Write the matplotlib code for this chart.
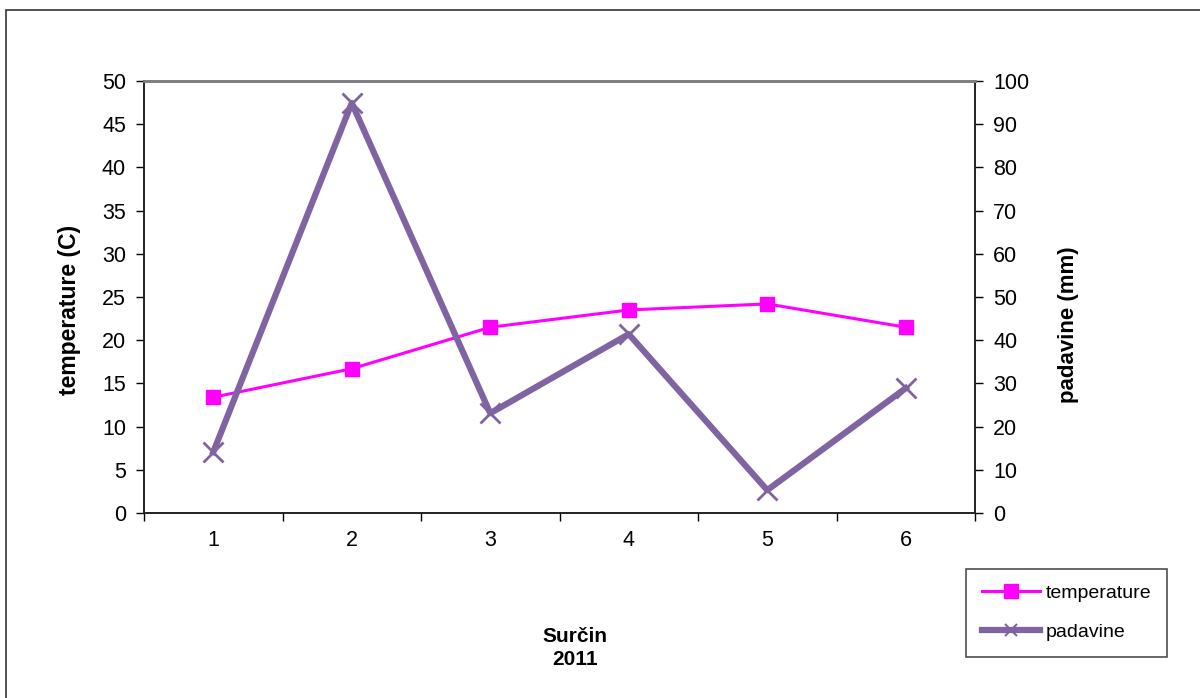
import matplotlib.pyplot as plt
from matplotlib.patches import Rectangle
from matplotlib.ticker import FixedLocator, NullFormatter

plt.rcParams['font.family'] = ['Liberation Sans', 'DejaVu Sans']

months = [1, 2, 3, 4, 5, 6]
temperature = [13.4, 16.7, 21.5, 23.5, 24.2, 21.5]
padavine = [14.1, 94.9, 23.1, 41.4, 5.3, 28.9]

fig = plt.figure(figsize=(12, 6.98), dpi=100)
ax = fig.add_axes([0.12, 0.265, 0.6925, 0.619])
ax2 = ax.twinx()

# outer chart frame (only top and left edges fall inside the image)
fig.patches.append(Rectangle((0.005, -0.05), 1.1, 1.0357, transform=fig.transFigure,
                             fill=False, edgecolor='#333333', linewidth=1.2))

l1, = ax.plot(months, temperature, color='#FF00FF', linewidth=2.2,
              marker='s', markersize=10.5, label='temperature')
l2, = ax2.plot(months, padavine, color='#8064A2', linewidth=4.5,
               marker='x', markersize=14, markeredgewidth=2, label='padavine')

ax.set_xlim(0.5, 6.5)
ax.set_ylim(0, 50)
ax2.set_ylim(0, 100)
ax.set_yticks(range(0, 51, 5))
ax2.set_yticks(range(0, 101, 10))

# category boundaries get tick marks, centres get the labels
ax.xaxis.set_major_locator(FixedLocator([0.5, 1.5, 2.5, 3.5, 4.5, 5.5, 6.5]))
ax.xaxis.set_major_formatter(NullFormatter())
ax.xaxis.set_minor_locator(FixedLocator(months))
ax.set_xticklabels([str(m) for m in months], minor=True)
ax.tick_params(axis='x', which='major', direction='out', length=6, width=1)
ax.tick_params(axis='x', which='minor', length=0, pad=12, labelsize=15.5)
ax.tick_params(axis='y', direction='out', length=6, width=1, pad=7, labelsize=15.5)
ax2.tick_params(axis='y', direction='out', length=6, width=1, pad=7, labelsize=15.5)

for a in (ax, ax2):
    a.spines['top'].set_color('#808080')
    a.spines['top'].set_linewidth(2)
    for s in ('left', 'right', 'bottom'):
        a.spines[s].set_color('#222222')
        a.spines[s].set_linewidth(1.2)

ax.set_ylabel('temperature (C)', fontsize=16.5, fontweight='bold')
ax.yaxis.set_label_coords(-0.076, 0.47)
ax2.set_ylabel('padavine (mm)', fontsize=16, fontweight='bold')
ax2.yaxis.set_label_coords(1.10, 0.435)

fig.text(0.479, 0.0716, 'Surčin\n2011', ha='center', va='center',
         fontsize=15, fontweight='bold', linespacing=1.25)

leg = fig.legend(handles=[l1, l2], loc='upper left', bbox_to_anchor=(0.805, 0.185),
                 bbox_transform=fig.transFigure, frameon=True, fancybox=False,
                 fontsize=14, handlelength=3, borderpad=0.8, labelspacing=1.1,
                 handletextpad=0.3, borderaxespad=0)
leg.get_frame().set_edgecolor('#222222')
leg.get_frame().set_linewidth(1.2)
leg.legend_handles[1].set_markersize(9)
leg.legend_handles[1].set_markeredgewidth(1.5)

fig.savefig('out.png', dpi=100)
